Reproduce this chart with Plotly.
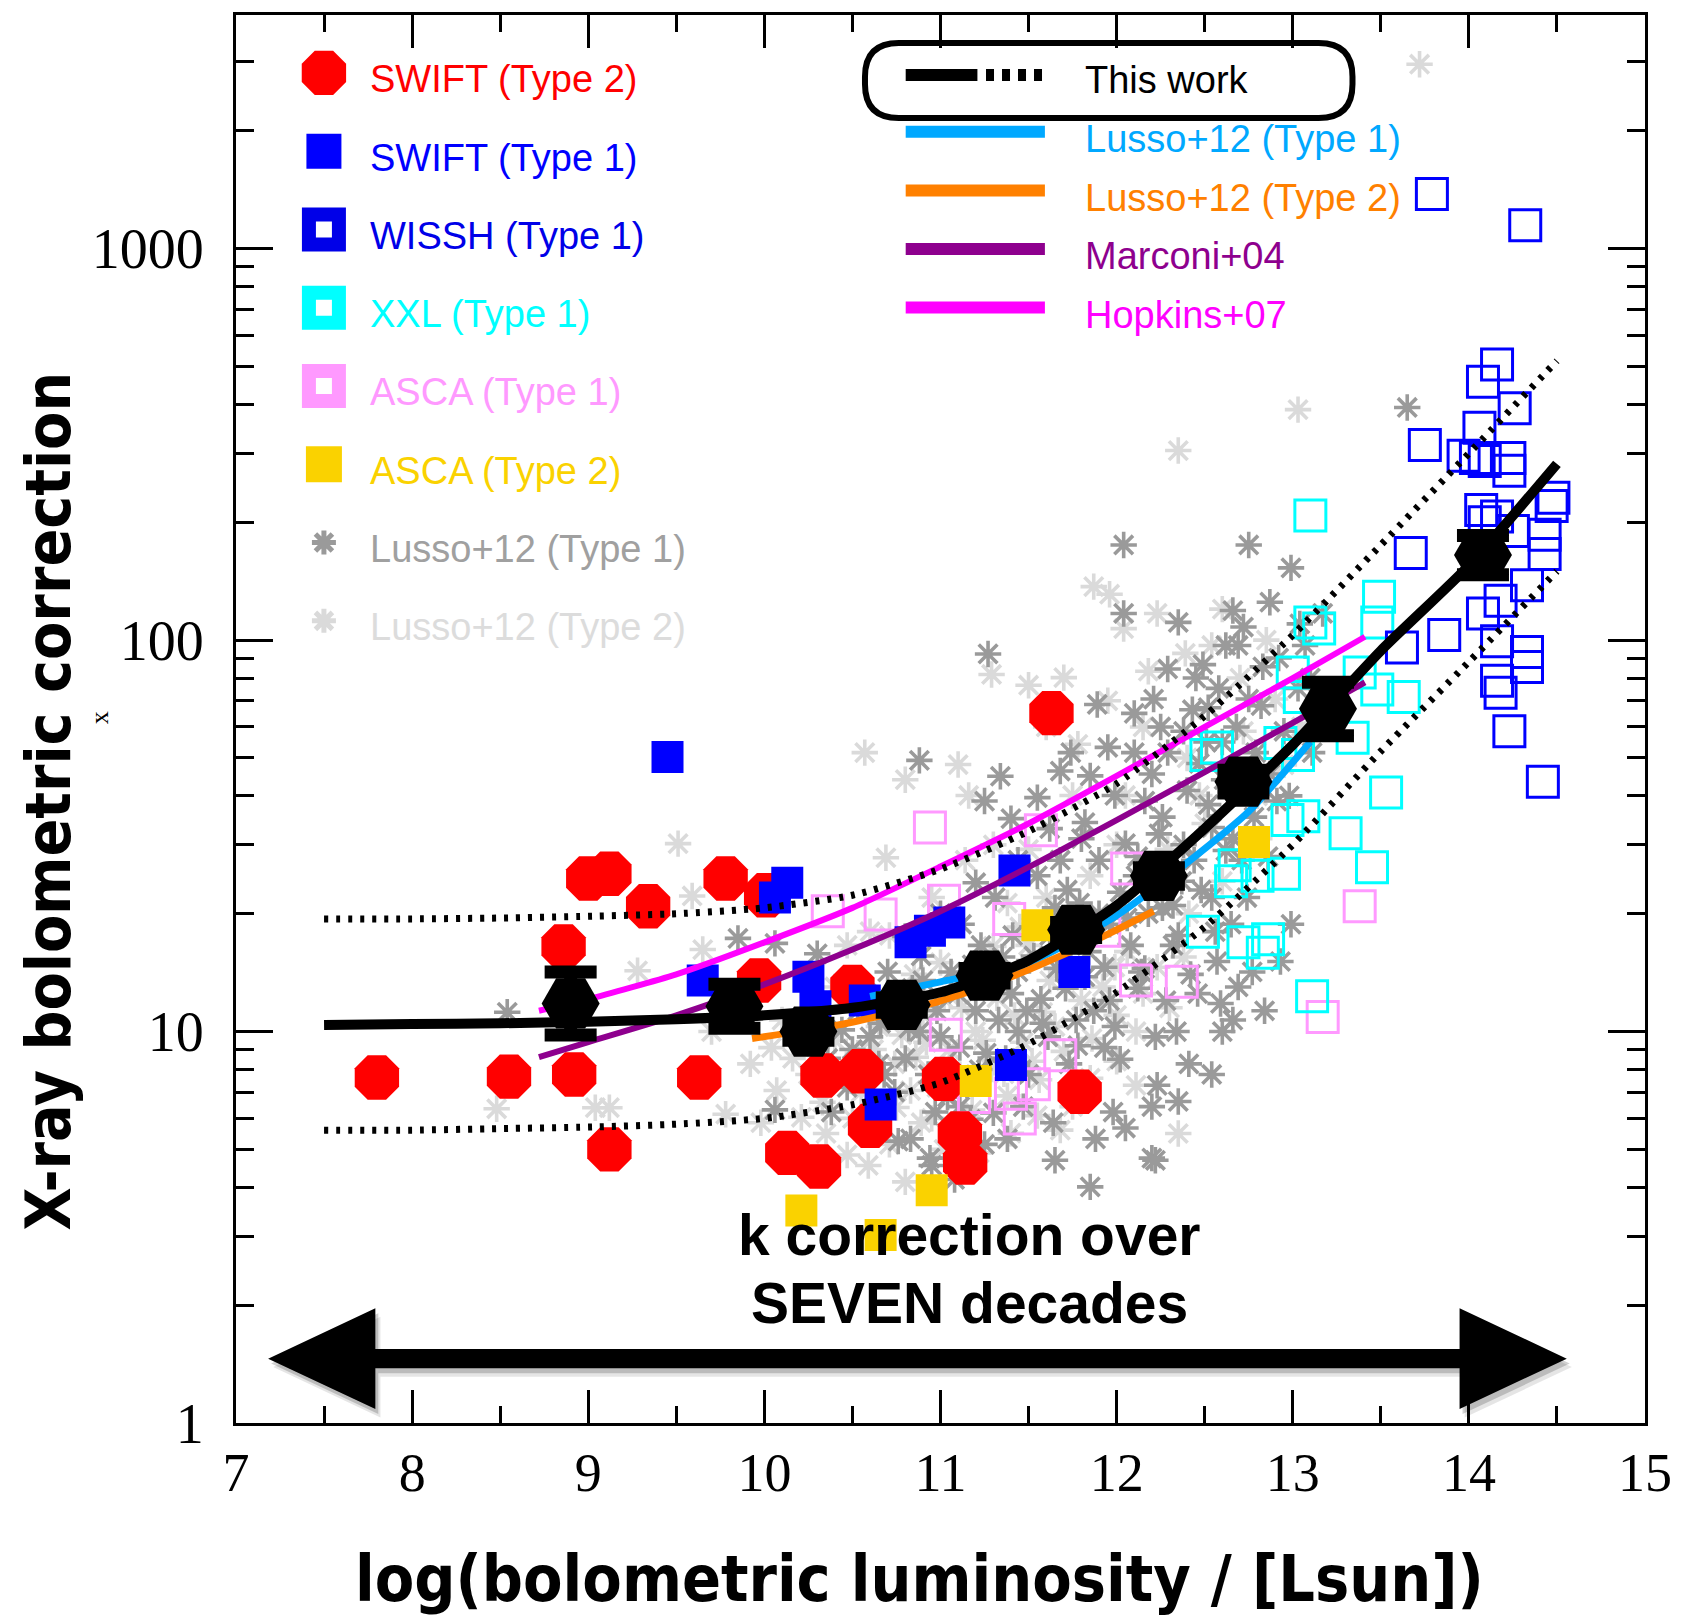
import plotly.graph_objects as go

# ---------------- data (log L_bol [L_sun], bolometric correction K_X) ----------------
swift2_logl = [7.80, 8.55, 8.92, 9.63, 9.00, 9.12, 9.34, 9.78, 8.86, 9.12, 9.97, 10.13, 10.31, 10.33,
               10.55, 10.60, 11.02, 11.11, 11.14, 11.79, 11.63, 10.01, 10.50]
swift2_k = [7.63, 7.67, 7.77, 7.63, 24.6, 25.3, 20.9, 24.6, 16.5, 5.0, 13.5, 4.90, 4.52, 7.72,
            7.92, 5.74, 7.57, 5.49, 4.63, 7.02, 65.1, 22.3, 13.0]

swift1_logl = [9.45, 10.13, 10.06, 9.65, 10.25, 10.29, 11.42, 10.83, 10.94, 11.05, 11.76, 11.40, 10.66, 10.57]
swift1_k = [50.3, 24.0, 22.0, 13.5, 13.8, 11.6, 25.8, 16.9, 18.1, 19.0, 14.2, 8.22, 6.51, 12.0]

wissh_logl = [13.79, 14.32, 14.16, 14.08, 14.26, 14.06, 13.75, 13.97, 14.04, 14.09, 14.23, 14.23, 14.48,
              14.47, 14.07, 14.16, 14.09, 14.25, 14.43, 14.43, 13.67, 14.33, 14.18, 14.08, 13.86, 13.62,
              14.16, 14.33, 14.33, 14.16, 14.18, 14.23, 14.42]
wissh_k = [1380, 1148, 506, 457, 391, 349, 315, 296, 292, 287, 292, 271, 231,
           220, 215, 207, 200, 190, 186, 166, 167, 138, 126, 117, 103, 95.7,
           99.4, 93.3, 85.4, 78.7, 73.4, 58.5, 43.5]

xxl_logl = [13.10, 13.49, 13.48, 13.10, 13.15, 13.00, 13.38, 13.48, 13.63, 13.04, 13.34, 12.51, 12.57,
            12.93, 13.03, 13.53, 13.06, 12.97, 13.30, 13.45, 12.67, 12.65, 12.80, 12.95, 12.49, 12.72,
            12.86, 12.83, 13.11]
xxl_k = [208, 129, 111, 111, 107, 82.7, 82.7, 74.8, 71.6, 71.6, 56.3, 50.9, 53.2,
         54.6, 50.9, 40.8, 35.5, 34.7, 32.1, 26.3, 26.6, 24.2, 25.0, 25.3, 18.0, 16.9,
         17.2, 15.9, 12.3]

asca1_logl = [10.94, 10.36, 10.66, 11.02, 11.39, 11.57, 12.06, 11.93, 12.11, 12.37, 11.03, 11.68,
              11.53, 11.19, 11.45, 11.40, 13.38, 13.17]
asca1_k = [33.2, 20.3, 19.9, 21.6, 19.4, 32.7, 26.1, 18.1, 13.5, 13.4, 9.81, 8.70,
           7.34, 6.81, 6.00, 6.94, 20.9, 10.9]

asca2_logl = [10.21, 10.66, 10.95, 11.20, 11.55, 12.78]
asca2_k = [3.49, 3.02, 3.93, 7.48, 18.7, 30.5]

lusso1_logl = [10.36, 10.47, 10.44, 10.53, 10.38, 10.60, 10.68, 10.64, 10.72, 10.70, 10.76, 10.80, 10.84,
               10.88, 10.93, 10.97, 10.89, 10.98, 10.94, 11.06, 11.11, 11.15, 11.20, 11.23, 11.12, 11.17,
               11.25, 11.08, 11.29, 11.33, 11.37, 11.41, 11.44, 11.47, 11.31, 11.49, 11.53, 11.57, 11.61,
               11.65, 11.68, 11.71, 11.55, 11.64, 11.73, 11.79, 11.84, 11.87, 11.90, 11.93, 11.96, 11.82,
               11.98, 11.88, 12.02, 12.05, 12.08, 12.12, 12.16, 12.18, 12.22, 12.10, 12.20, 12.26, 12.29,
               12.32, 12.37, 12.40, 12.43, 12.46, 12.34, 12.51, 12.54, 12.58, 12.61, 12.65, 12.69, 12.71,
               12.57, 12.75, 12.79, 12.83, 12.87, 12.91, 12.95, 12.77, 12.99, 13.03, 13.07, 13.11, 13.17,
               12.99, 13.65, 12.75, 12.04, 12.35, 12.66, 12.04, 12.72, 12.29, 12.49, 12.62, 11.27, 11.89,
               12.21, 10.88, 11.34, 11.95, 11.68, 11.25, 11.55, 12.52, 12.22, 11.85, 8.54, 10.06, 9.85,
               10.06, 10.30,
               11.77, 11.99, 12.14, 12.26, 12.44, 12.35, 12.54, 12.66, 12.78, 12.87, 12.72, 12.60, 12.38,
               12.20, 11.99, 11.80, 11.62, 11.50, 11.38, 11.65, 12.05, 12.23, 12.41, 12.60, 12.84, 12.93,
               12.11, 11.93, 11.74, 11.44, 11.26, 11.11, 10.95, 10.83, 10.65, 11.44, 11.74, 12.47, 12.66,
               12.20, 12.35, 12.54, 12.59, 12.69,
               10.50, 10.58, 10.66, 10.74, 10.82, 10.90, 11.00, 11.04, 11.10, 11.18, 11.22, 11.30, 11.35,
               11.40, 11.46, 11.52, 11.58, 11.66, 11.72, 11.78, 11.82, 11.90, 11.96, 12.02, 12.06, 12.12,
               12.16, 12.24, 12.28, 12.32, 12.38, 12.42, 12.48, 12.52, 12.56, 12.62, 12.68, 12.74, 12.82,
               12.86, 12.92, 12.98, 13.04, 13.10, 12.45, 12.25, 12.10, 11.85, 11.62, 11.40, 11.20, 11.00,
               10.80]
lusso1_k = [8.54, 7.2, 10.1, 11.3, 6.23, 9.69, 7.77, 6.43, 11.0, 14.2, 5.25, 8.54, 12.9,
            10.0, 7.77, 6.23, 15.6, 11.3, 4.75, 14.2, 9.10, 7.29, 11.3, 16.6, 18.8, 5.97,
            5.15, 4.19, 13.3, 10.7, 8.54, 17.6, 14.2, 6.43, 22.0, 11.3, 15.6, 12.1, 9.69,
            20.7, 27.4, 12.9, 25.0, 5.85, 8.27, 21.3, 16.0, 11.3, 27.4, 9.10, 18.8, 34.2,
            6.23, 5.32, 22.7, 30.2, 16.6, 12.9, 38.8, 20.0, 9.69, 51.6, 4.75, 35.3, 51.6,
            16.6, 24.2, 41.3, 66.4, 12.5, 10.0, 54.9, 33.2, 75.3, 44.0, 18.8, 96.9, 27.4,
            15.1, 70.7, 51.6, 85.5, 125, 38.8, 58.5, 14.2, 153, 75.3, 96.9, 51.6, 117,
            18.8, 393, 175, 175, 111, 119, 117, 108, 84.4, 86.6, 96.9, 92.2, 68.5,
            70.7, 49.3, 44.9, 53.2, 46.3, 38.8, 39.6, 67.2, 4.69, 4.01, 11.2, 6.31, 17.3,
            16.8, 15.8,
            10.7, 10.3, 14.2, 20.7, 27.4, 17.6, 22.0, 31.1, 35.3, 45.5, 45.5, 54.9, 58.5,
            45.5, 40.1, 31.1, 17.6, 7.77, 5.32, 4.69, 5.67, 7.29, 8.27, 10.0, 11.3, 15.1,
            25.0, 14.6, 16.6, 10.0, 8.81, 6.43, 4.55, 5.32, 8.27, 27.4, 51.6, 48.4, 10.7,
            6.43, 6.63, 7.77, 11.8, 13.0,
            9.0, 12.5, 10.5, 7.0, 10.2, 13.5, 9.7, 6.8, 12.5, 14.8, 8.0, 6.2, 15.5,
            12.5, 8.0, 18.5, 10.5, 14.5, 23.0, 9.2, 13.8, 20.0, 12.0, 8.5, 19.5, 28.0,
            14.5, 32.0, 12.0, 21.0, 30.0, 14.0, 23.0, 38.0, 18.0, 29.0, 60.0, 22.0, 68.0,
            28.0, 90.0, 40.0, 110, 80.0, 80.0, 60.0, 65.0, 45.0, 33.0, 35.0, 24.0, 20.0,
            17.5]

lusso2_logl = [13.72, 13.03, 12.35, 11.87, 11.96, 12.04, 12.18, 12.39, 11.29, 11.50, 11.70, 11.78, 10.57,
               10.80, 11.10, 10.69, 11.16, 9.51, 9.59, 9.28, 8.48, 9.04, 9.12, 9.65, 9.78, 10.16,
               10.25, 10.07, 10.21, 10.35, 10.04, 10.47, 10.59, 10.71, 10.80, 10.89, 11.02, 12.35, 10.53,
               10.65, 10.74, 10.83, 10.92, 11.02, 11.11, 11.20, 11.29, 11.38, 11.47, 11.56, 11.65, 11.75,
               11.50, 11.38, 11.75, 11.99, 12.11, 12.23, 12.41, 12.60, 12.29, 12.05, 12.47, 12.81, 12.72,
               12.90, 12.54, 12.23, 11.75, 11.50, 11.14, 11.02, 10.71, 10.47, 10.29, 10.10, 12.11, 9.92,
               9.98,
               10.40, 10.45, 10.55, 10.62, 10.70, 10.78, 10.86, 10.90, 10.98, 11.05, 11.12, 11.18, 11.24,
               11.32, 11.36, 11.42, 11.52, 11.58, 11.62, 11.70, 11.80, 11.86, 11.92, 12.00, 12.06, 12.15,
               12.30, 12.38, 10.25, 10.18, 10.33, 10.50, 10.62, 10.75, 10.95, 11.08, 11.22, 11.40, 11.55,
               11.68, 11.85, 12.00, 11.00, 10.85, 11.30, 11.45, 11.60, 11.85, 12.00, 12.20, 12.50, 12.65,
               12.40, 12.80, 12.95, 13.05, 12.70, 12.15, 11.95, 12.85, 12.60, 11.60, 11.30, 10.95, 10.60,
               10.40, 9.70]
lusso2_k = [2960, 388, 305, 137, 131, 107, 83.3, 92.5, 81.7, 76.7, 80.2, 54.2, 51.6,
            44.0, 48.1, 27.8, 40.1, 30.2, 22.2, 14.3, 6.35, 6.39, 6.39, 16.2, 6.15, 8.54,
            7.77, 7.07, 6.04, 5.49, 9.10, 4.84, 4.55, 5.15, 4.13, 5.85, 5.00, 5.49, 8.81,
            10.3, 8.27, 7.07, 9.39, 12.1, 7.77, 10.0, 8.02, 6.85, 9.39, 7.53, 10.3, 6.43,
            16.6, 21.3, 18.8, 14.6, 10.0, 14.6, 20.0, 24.2, 29.2, 40.1, 40.1, 31.1, 58.5,
            70.7, 96.9, 117, 40.1, 29.2, 27.4, 18.8, 17.6, 16.6, 10.7, 10.7, 7.29, 8.27,
            5.85,
            9.5, 8.0, 7.0, 9.0, 11.5, 9.8, 8.6, 11.0, 7.2, 9.0, 11.5, 6.3, 9.5,
            12.2, 7.8, 11.0, 8.4, 11.2, 13.5, 8.9, 12.0, 9.6, 13.0, 11.0, 16.0, 12.5,
            11.5, 15.5, 9.3, 10.2, 6.6, 6.0, 5.5, 6.4, 6.0, 5.3, 4.9, 5.5, 6.1,
            5.6, 7.6, 8.4, 15.0, 14.0, 16.5, 18.5, 22.0, 25.0, 30.0, 26.0, 34.0, 45.0,
            50.0, 40.0, 48.0, 60.0, 80.0, 60.0, 70.0, 100, 120, 60.0, 30.0, 22.0, 18.0,
            13.0, 10.0]

# binned values of this work with their uncertainty range
bin_logl = [8.90, 9.83, 10.25, 10.78, 11.25, 11.77, 12.24, 12.72, 13.20, 14.08]
bin_k = [11.8, 11.6, 10.0, 11.7, 13.9, 18.2, 25.0, 43.5, 66.8, 165]
bin_k_hi = [14.2, 13.2, 10.5, 12.2, 14.5, 19.0, 26.2, 46.5, 78.0, 185]
bin_k_lo = [9.8, 10.2, 9.5, 11.2, 13.3, 17.4, 23.8, 40.7, 57.0, 147]

# best-fit relation of this work and its 1-sigma spread
fit_logl = [7.5, 8.0, 8.5, 9.0, 9.5, 10.0, 10.5, 11.0, 11.5, 12.0, 12.5, 13.0, 13.5, 14.0, 14.5]
fit_k = [10.4, 10.45, 10.5, 10.6, 10.75, 11.0, 11.5, 12.6, 15.2, 21.0, 33.0, 54.0, 94.0, 155, 282]
fit_k_up = [19.4, 19.4, 19.5, 19.7, 20.0, 20.7, 22.3, 26.0, 32.5, 43.0, 64.0, 103, 175, 300, 517]
fit_k_low = [5.6, 5.6, 5.65, 5.7, 5.8, 6.0, 6.5, 7.4, 9.3, 12.6, 18.5, 30.0, 52.0, 88.0, 150]

# literature relations
lusso12_t1_logl = [10.6, 11.0, 11.5, 12.0, 12.4, 12.75, 13.1]
lusso12_t1_k = [12.3, 13.4, 15.0, 19.8, 27.0, 36.5, 55.0]
lusso12_t2_logl = [9.93, 10.42, 10.95, 11.42, 11.89, 12.21]
lusso12_t2_k = [9.6, 10.4, 11.8, 13.9, 17.2, 20.3]
marconi04_logl = [8.72, 9.0, 9.5, 10.0, 10.5, 11.0, 11.5, 12.0, 12.5, 13.0, 13.41]
marconi04_k = [8.6, 9.4, 11.0, 13.2, 16.2, 20.3, 26.3, 34.7, 46.0, 61.5, 78.0]
hopkins07_logl = [8.72, 9.0, 9.5, 10.0, 10.5, 11.0, 11.5, 12.0, 12.5, 13.0, 13.41]
hopkins07_k = [11.3, 12.1, 14.0, 16.9, 20.7, 26.4, 34.0, 45.0, 60.0, 80.0, 102]

x_ticks = [7, 8, 9, 10, 11, 12, 13, 14, 15]
y_ticks = [1, 10, 100, 1000]
y_ticklabels = ["1", "10", "100", "1000"]

# ---------------- colours ----------------
RED = "#ff0000"
BLUE = "#0000ff"
CYAN = "#00ffff"
VIOLET = "#ff99ff"
GOLD = "#fad200"
DARKGRAY = "#9a9a9a"
LIGHTGRAY = "#dadada"
SKY = "#00a8ff"
ORANGE = "#ff8000"
PURPLE = "#8e008e"
MAGENTA = "#ff00ff"

SANS = "Liberation Sans, Arial, sans-serif"
SANS_COND = "Liberation Sans Narrow, DejaVu Sans Condensed, Liberation Sans, sans-serif"
SERIF = "Liberation Serif, serif"

fig = go.Figure()


def filled(x, y, symbol, size, color):
    fig.add_trace(go.Scatter(x=x, y=y, mode="markers", hoverinfo="skip",
                             marker=dict(symbol=symbol, size=size, color=color, line=dict(width=0))))


def outlined(x, y, symbol, size, color, width):
    fig.add_trace(go.Scatter(x=x, y=y, mode="markers", hoverinfo="skip",
                             marker=dict(symbol=symbol, size=size, color="rgba(0,0,0,0)",
                                         line=dict(color=color, width=width))))


def curve(x, y, color, width, dash="solid"):
    fig.add_trace(go.Scatter(x=x, y=y, mode="lines", hoverinfo="skip",
                             line=dict(color=color, width=width, dash=dash, shape="spline", smoothing=0.6)))


def asterisks(x, y, color):
    fig.add_trace(go.Scatter(x=x, y=y, mode="markers", hoverinfo="skip",
                             marker=dict(symbol="asterisk-open", size=22, color=color,
                                         line=dict(color=color, width=3.6))))


# Lusso+12 samples (asterisks)
asterisks(lusso2_logl, lusso2_k, LIGHTGRAY)
asterisks(lusso1_logl, lusso1_k, DARKGRAY)

# open-square samples
outlined(asca1_logl, asca1_k, "square", 31, VIOLET, 3)
outlined(xxl_logl, xxl_k, "square", 31, CYAN, 3)
outlined(wissh_logl, wissh_k, "square", 31, BLUE, 3)

# filled samples
filled(swift2_logl, swift2_k, "octagon", 48, RED)
filled(swift1_logl, swift1_k, "square", 32, BLUE)
filled(asca2_logl, asca2_k, "square", 32, GOLD)

# literature relations
curve(lusso12_t1_logl, lusso12_t1_k, SKY, 7)
curve(lusso12_t2_logl, lusso12_t2_k, ORANGE, 7)
curve(marconi04_logl, marconi04_k, PURPLE, 6)
curve(hopkins07_logl, hopkins07_k, MAGENTA, 6)

# this work: spread, fit and bins
curve(fit_logl, fit_k_up, "black", 7, dash="4px,8px")
curve(fit_logl, fit_k_low, "black", 7, dash="4px,8px")
curve(fit_logl, fit_k, "black", 10)
fig.add_trace(go.Scatter(
    x=bin_logl, y=bin_k, mode="markers", hoverinfo="skip",
    marker=dict(symbol="hexagon2", size=58, color="black", line=dict(width=0)),
    error_y=dict(type="data", symmetric=False,
                 array=[h - k for h, k in zip(bin_k_hi, bin_k)],
                 arrayminus=[k - l for k, l in zip(bin_k, bin_k_lo)],
                 color="black", thickness=13, width=26)))

# ---------------- legend (drawn on an overlay axis in plot-fraction units) ----------------
left_legend = [
    ("SWIFT (Type 2)", RED, dict(symbol="octagon", size=48, color=RED, line=dict(width=0))),
    ("SWIFT (Type 1)", BLUE, dict(symbol="square", size=35, color=BLUE, line=dict(width=0))),
    ("WISSH (Type 1)", "#0000e8", dict(symbol="square", size=30, color="white", line=dict(color="#0000e8", width=14))),
    ("XXL (Type 1)", CYAN, dict(symbol="square", size=30, color="white", line=dict(color=CYAN, width=14))),
    ("ASCA (Type 1)", VIOLET, dict(symbol="square", size=30, color="white", line=dict(color=VIOLET, width=14))),
    ("ASCA (Type 2)", GOLD, dict(symbol="square", size=36, color=GOLD, line=dict(width=0))),
    ("Lusso+12 (Type 1)", "#a0a0a0", dict(symbol="asterisk-open", size=20, color=DARKGRAY, line=dict(color=DARKGRAY, width=5))),
    ("Lusso+12 (Type 2)", "#dcdcdc", dict(symbol="asterisk-open", size=20, color=LIGHTGRAY, line=dict(color=LIGHTGRAY, width=5))),
]
LEG_X_MARK, LEG_X_TEXT = 0.0624, 0.0935
LEG_Y0, LEG_DY = 0.9589, 0.0556

annotations = []
for i, (label, tcolor, mk) in enumerate(left_legend):
    y_row = LEG_Y0 - LEG_DY * i
    fig.add_trace(go.Scatter(x=[LEG_X_MARK], y=[y_row], xaxis="x2", yaxis="y2", mode="markers",
                             hoverinfo="skip", marker=mk))
    annotations.append(dict(x=LEG_X_TEXT, y=y_row - 0.0046, xref="paper", yref="paper", text=label,
                            showarrow=False, xanchor="left", yanchor="middle",
                            font=dict(family=SANS, size=38, color=tcolor)))

shapes = []
# right legend: line samples
R_X0, R_X1, R_XTEXT = 0.4753, 0.5741, 0.6008
right_legend = [("Lusso+12 (Type 1)", SKY), ("Lusso+12 (Type 2)", ORANGE),
                ("Marconi+04", PURPLE), ("Hopkins+07", MAGENTA)]
TOP_ROW_Y = 0.9573
for i, (label, col) in enumerate(right_legend):
    yl = 0.9170 - 0.0416 * i
    shapes.append(dict(type="line", xref="paper", yref="paper", x0=R_X0, x1=R_X1, y0=yl, y1=yl,
                       line=dict(color=col, width=12)))
    annotations.append(dict(x=R_XTEXT, y=yl - 0.0053, xref="paper", yref="paper", text=label,
                            showarrow=False, xanchor="left", yanchor="middle",
                            font=dict(family=SANS, size=38, color=col)))

shapes.append(dict(type="line", xref="paper", yref="paper", x0=R_X0, x1=0.5262, y0=TOP_ROW_Y, y1=TOP_ROW_Y,
                   line=dict(color="black", width=12)))
shapes.append(dict(type="line", xref="paper", yref="paper", x0=0.5323, x1=R_X1, y0=TOP_ROW_Y, y1=TOP_ROW_Y,
                   line=dict(color="black", width=12, dash="8px,8px")))
annotations.append(dict(x=R_XTEXT, y=TOP_ROW_Y - 0.0038, xref="paper", yref="paper", text="This work",
                        showarrow=False, xanchor="left", yanchor="middle",
                        font=dict(family=SANS, size=38, color="black")))

# rounded frame around "This work"
bx0, bx1, by0, by1, br = 0.4464, 0.7924, 0.9269, 0.9802, 0.024
shapes.append(dict(
    type="path", xref="paper", yref="paper", line=dict(color="black", width=6),
    path=(f"M {bx0 + br},{by1} L {bx1 - br},{by1} Q {bx1},{by1} {bx1},{by1 - br} "
          f"L {bx1},{by0 + br} Q {bx1},{by0} {bx1 - br},{by0} L {bx0 + br},{by0} "
          f"Q {bx0},{by0} {bx0},{by0 + br} L {bx0},{by1 - br} Q {bx0},{by1} {bx0 + br},{by1} Z")))


# double-headed arrow spanning the luminosity range, with a soft shadow
def arrow_path(dx=0.0, dy=0.0):
    pts = [(0.0228, 0.0457), (0.0989, 0.0815), (0.0989, 0.0526), (0.8684, 0.0526), (0.8684, 0.0815),
           (0.9445, 0.0457), (0.8684, 0.0099), (0.8684, 0.0388), (0.0989, 0.0388), (0.0989, 0.0099)]
    return "M " + " L ".join(f"{x + dx},{y + dy}" for x, y in pts) + " Z"


for off, op in [(0.006, 0.10), (0.0035, 0.18)]:
    shapes.append(dict(type="path", xref="paper", yref="paper", path=arrow_path(off * 0.6, -off),
                       fillcolor="black", opacity=op, line=dict(width=0)))
shapes.append(dict(type="path", xref="paper", yref="paper", path=arrow_path(),
                   fillcolor="black", line=dict(width=0)))

annotations += [
    dict(x=0.5209, y=0.1333, xref="paper", yref="paper", text="<b>k correction over</b>", showarrow=False,
         xanchor="center", yanchor="middle", font=dict(family=SANS, size=57, color="black")),
    dict(x=0.5209, y=0.0853, xref="paper", yref="paper", text="<b>SEVEN decades</b>", showarrow=False,
         xanchor="center", yanchor="middle", font=dict(family=SANS, size=57, color="black")),
    dict(x=0.4848, y=-0.111, xref="paper", yref="paper", text="<b>log(bolometric luminosity / [Lsun])</b>",
         showarrow=False, xanchor="center", yanchor="middle",
         font=dict(family=SANS_COND, size=64, color="black")),
    dict(x=-0.133, y=0.4418, xref="paper", yref="paper", text="<b>X-ray bolometric correction</b>",
         showarrow=False, xanchor="center", yanchor="middle", textangle=-90,
         font=dict(family=SANS_COND, size=62, color="black")),
    dict(x=-0.097, y=0.5007, xref="paper", yref="paper", text="x", showarrow=False, textangle=-90,
         xanchor="center", yanchor="middle", font=dict(family=SERIF, size=26, color="black")),
]

minor_x = [7.5 + i for i in range(8)]
minor_y = [m * 10 ** e for e in range(4) for m in range(2, 10) if m * 10 ** e < 3900]

axis_common = dict(ticks="inside", tickcolor="black", tickwidth=2.5, showline=True, linewidth=3,
                   linecolor="black", mirror="allticks", showgrid=False, zeroline=False)

fig.update_layout(
    width=1684, height=1623,
    margin=dict(l=236, r=35, t=13, b=200),
    paper_bgcolor="white", plot_bgcolor="white",
    showlegend=False,
    xaxis=dict(range=[7, 15], tickvals=x_ticks, ticklen=33, ticklabelstandoff=0,
               tickfont=dict(family=SERIF, size=54, color="black"),
               minor=dict(tickvals=minor_x, ticks="inside", ticklen=17, tickwidth=2.5, tickcolor="black",
                          showgrid=False),
               **axis_common),
    yaxis=dict(type="log", range=[0, 3.597], tickvals=y_ticks, ticktext=y_ticklabels, ticklen=37,
               ticklabelstandoff=18,
               tickfont=dict(family=SERIF, size=56, color="black"),
               minor=dict(tickvals=minor_y, ticks="inside", ticklen=18, tickwidth=2.5, tickcolor="black",
                          showgrid=False),
               **axis_common),
    xaxis2=dict(overlaying="x", range=[0, 1], visible=False, fixedrange=True),
    yaxis2=dict(overlaying="y", range=[0, 1], visible=False, fixedrange=True),
    shapes=shapes,
    annotations=annotations,
)

fig.write_html("out.html")
